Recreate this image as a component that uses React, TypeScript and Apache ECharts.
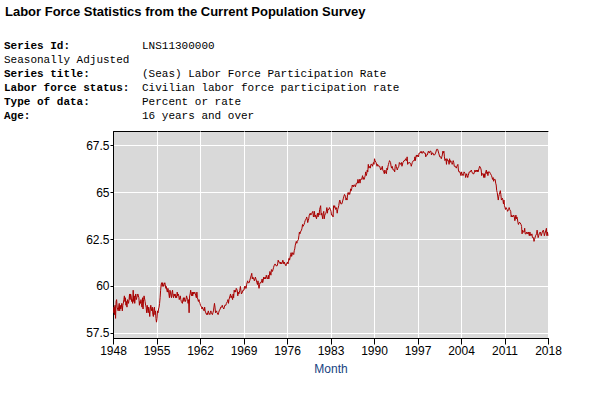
import React, { useEffect, useRef } from "react";
import * as echarts from "echarts";

// Monthly values, January 1948 onward (percent)
const lfpr1948to1957 = [
  58.6, 58.9, 58.5, 59.0, 58.3, 59.2, 59.3, 58.9, 58.9, 58.7, 58.7, 59.1,
  58.7, 59.0, 58.8, 58.9, 59.1, 58.7, 59.0, 59.1, 59.3, 59.5, 59.2, 59.4,
  59.0, 59.2, 58.9, 59.3, 59.2, 59.1, 59.3, 59.6, 59.3, 59.6, 59.5, 59.2,
  59.3, 59.1, 59.8, 59.2, 59.5, 59.1, 59.4, 59.6, 59.3, 59.4, 59.5, 59.6,
  59.6, 59.4, 59.0, 59.2, 59.1, 59.3, 59.1, 58.9, 59.4, 58.8, 59.3, 59.5,
  59.5, 59.2, 59.0, 58.9, 58.6, 59.0, 58.8, 58.6, 58.9, 58.7, 58.4, 58.8,
  59.0, 58.8, 58.7, 58.9, 58.5, 58.4, 58.8, 58.9, 58.5, 58.7, 58.3, 58.1,
  58.3, 58.7, 58.6, 58.8, 58.9, 59.1, 59.4, 59.8, 60.1, 60.2, 60.0, 60.2,
  60.2, 60.0, 60.1, 60.2, 60.1, 59.9, 60.0, 59.8, 59.7, 59.9, 59.8, 59.6,
  59.4, 59.8, 59.7, 59.5, 59.4, 59.7, 59.8, 59.5, 59.4, 59.6, 59.5, 59.6,
];
const lfpr1958to1967 = [
  59.4, 59.5, 59.4, 59.7, 59.5, 59.6, 59.5, 59.3, 59.4, 59.5, 59.3, 59.2,
  59.2, 59.1, 59.3, 59.4, 59.2, 59.4, 59.3, 59.2, 59.3, 59.5, 59.4, 59.3,
  59.1, 59.3, 58.6, 59.5, 59.6, 59.8, 59.6, 59.5, 59.7, 59.5, 59.7, 59.6,
  59.6, 59.7, 59.6, 59.5, 59.4, 59.7, 59.4, 59.3, 59.2, 59.3, 59.2, 59.1,
  59.0, 59.0, 58.9, 58.8, 58.9, 58.8, 58.8, 58.7, 58.9, 58.7, 58.6, 58.6,
  58.5, 58.6, 58.5, 58.7, 58.6, 58.6, 58.5, 58.6, 58.7, 58.6, 58.6, 58.5,
  58.6, 58.7, 58.7, 59.1, 58.9, 58.6, 58.6, 58.7, 58.6, 58.6, 58.5, 58.6,
  58.7, 58.7, 58.8, 58.9, 58.9, 58.9, 59.0, 58.9, 58.9, 58.8, 58.9, 59.0,
  59.0, 59.0, 59.1, 59.1, 59.2, 59.3, 59.1, 59.3, 59.3, 59.5, 59.6, 59.4,
  59.5, 59.4, 59.3, 59.6, 59.4, 59.8, 59.7, 59.8, 59.7, 59.9, 59.9, 59.8,
];
const lfpr1968to1977 = [
  59.5, 59.7, 59.6, 59.6, 59.8, 60.0, 59.8, 59.6, 59.6, 59.7, 59.8, 59.8,
  59.8, 60.0, 59.9, 60.0, 59.9, 60.1, 60.1, 60.3, 60.2, 60.2, 60.2, 60.3,
  60.4, 60.5, 60.6, 60.7, 60.4, 60.5, 60.5, 60.4, 60.3, 60.4, 60.5, 60.4,
  60.4, 60.2, 60.1, 60.3, 60.1, 59.9, 60.1, 60.2, 60.2, 60.2, 60.3, 60.4,
  60.2, 60.3, 60.5, 60.4, 60.4, 60.5, 60.4, 60.6, 60.5, 60.5, 60.4, 60.6,
  60.4, 60.6, 60.8, 60.8, 60.6, 60.9, 60.9, 60.8, 60.8, 61.0, 61.1, 61.1,
  61.2, 61.2, 61.1, 61.1, 61.1, 61.2, 61.4, 61.3, 61.3, 61.3, 61.2, 61.3,
  61.3, 61.2, 61.3, 61.4, 61.3, 61.2, 61.3, 61.2, 61.2, 61.1, 61.2, 61.2,
  61.3, 61.2, 61.4, 61.5, 61.4, 61.4, 61.7, 61.8, 61.6, 61.6, 61.8, 61.8,
  61.7, 61.9, 62.0, 62.2, 62.2, 62.4, 62.3, 62.4, 62.4, 62.5, 62.7, 62.9,
];
const lfpr1978to1987 = [
  62.8, 62.9, 62.9, 63.0, 63.1, 63.3, 63.2, 63.2, 63.3, 63.4, 63.5, 63.5,
  63.6, 63.7, 63.6, 63.4, 63.5, 63.6, 63.8, 63.8, 63.9, 63.8, 63.8, 63.9,
  63.9, 64.0, 63.7, 63.8, 64.0, 63.7, 63.8, 63.7, 63.6, 63.8, 63.9, 63.7,
  63.9, 63.8, 64.1, 64.2, 64.3, 63.8, 63.9, 63.9, 63.6, 63.9, 64.0, 63.6,
  63.8, 63.8, 63.9, 64.0, 64.2, 63.9, 64.1, 64.1, 64.1, 64.2, 64.2, 64.1,
  64.0, 63.8, 63.8, 63.8, 63.7, 64.3, 64.2, 64.3, 64.3, 64.1, 64.2, 64.1,
  63.9, 64.1, 64.1, 64.3, 64.5, 64.6, 64.6, 64.4, 64.4, 64.4, 64.5, 64.6,
  64.7, 64.7, 64.9, 64.9, 64.8, 64.6, 64.7, 64.6, 64.9, 65.0, 64.9, 65.0,
  64.9, 65.0, 65.2, 65.1, 65.2, 65.4, 65.4, 65.3, 65.4, 65.4, 65.4, 65.3,
  65.4, 65.5, 65.5, 65.5, 65.7, 65.5, 65.6, 65.7, 65.5, 65.7, 65.7, 65.7,
];
const lfpr1988to1997 = [
  65.8, 65.9, 65.7, 65.8, 65.7, 65.8, 65.9, 66.1, 65.9, 66.0, 66.2, 66.1,
  66.5, 66.3, 66.3, 66.4, 66.3, 66.5, 66.5, 66.5, 66.4, 66.5, 66.6, 66.5,
  66.8, 66.7, 66.7, 66.6, 66.6, 66.4, 66.5, 66.5, 66.4, 66.4, 66.4, 66.4,
  66.2, 66.2, 66.3, 66.4, 66.2, 66.2, 66.1, 66.0, 66.2, 66.1, 66.1, 66.0,
  66.3, 66.2, 66.4, 66.5, 66.6, 66.7, 66.7, 66.6, 66.4, 66.3, 66.4, 66.4,
  66.2, 66.2, 66.2, 66.1, 66.4, 66.5, 66.4, 66.4, 66.2, 66.3, 66.3, 66.4,
  66.6, 66.6, 66.5, 66.5, 66.6, 66.4, 66.4, 66.6, 66.6, 66.7, 66.7, 66.7,
  66.8, 66.8, 66.7, 66.9, 66.5, 66.5, 66.6, 66.6, 66.6, 66.6, 66.5, 66.4,
  66.4, 66.6, 66.6, 66.7, 66.7, 66.7, 66.9, 66.7, 66.9, 67.0, 66.9, 67.0,
  67.0, 66.9, 67.1, 67.1, 67.1, 67.1, 67.2, 67.1, 67.1, 67.1, 67.2, 67.2,
];
const lfpr1998to2007 = [
  67.1, 67.1, 67.1, 66.9, 67.0, 67.0, 67.0, 67.0, 67.2, 67.2, 67.1, 67.2,
  67.2, 67.2, 67.0, 67.1, 67.1, 67.1, 67.0, 67.0, 67.0, 67.0, 67.1, 67.1,
  67.3, 67.3, 67.3, 67.3, 67.1, 67.1, 66.9, 66.9, 66.9, 66.8, 66.9, 67.0,
  67.2, 67.1, 67.2, 66.9, 66.7, 66.7, 66.8, 66.5, 66.8, 66.7, 66.7, 66.7,
  66.5, 66.8, 66.6, 66.7, 66.7, 66.6, 66.5, 66.6, 66.7, 66.6, 66.4, 66.4,
  66.4, 66.4, 66.3, 66.4, 66.4, 66.5, 66.2, 66.1, 66.1, 66.1, 66.1, 65.9,
  66.1, 66.0, 66.0, 65.9, 66.0, 66.1, 66.1, 66.0, 65.8, 65.9, 66.0, 65.9,
  65.8, 65.9, 65.9, 66.1, 66.1, 66.1, 66.1, 66.2, 66.1, 66.1, 66.0, 66.0,
  66.0, 66.1, 66.2, 66.1, 66.1, 66.2, 66.1, 66.2, 66.1, 66.2, 66.3, 66.4,
  66.4, 66.3, 66.2, 65.9, 66.0, 66.0, 66.0, 65.8, 66.0, 65.8, 66.0, 66.0,
];
const lfpr2008to2018 = [
  66.2, 66.0, 66.1, 65.9, 66.1, 66.1, 66.1, 66.1, 66.0, 66.0, 65.9, 65.8,
  65.7, 65.8, 65.6, 65.7, 65.7, 65.7, 65.5, 65.4, 65.1, 65.0, 65.0, 64.6,
  64.8, 64.9, 64.9, 65.1, 64.9, 64.6, 64.6, 64.7, 64.6, 64.4, 64.6, 64.3,
  64.2, 64.1, 64.2, 64.2, 64.1, 64.0, 64.0, 64.1, 64.2, 64.1, 64.1, 64.0,
  63.7, 63.8, 63.8, 63.7, 63.7, 63.8, 63.7, 63.5, 63.6, 63.8, 63.6, 63.7,
  63.6, 63.4, 63.3, 63.4, 63.4, 63.4, 63.4, 63.3, 63.2, 62.8, 63.0, 62.9,
  62.9, 62.9, 63.1, 62.8, 62.8, 62.8, 62.9, 62.9, 62.8, 62.9, 62.9, 62.7,
  62.9, 62.8, 62.7, 62.7, 62.8, 62.6, 62.6, 62.6, 62.4, 62.5, 62.5, 62.7,
  62.7, 62.8, 63.0, 62.8, 62.6, 62.7, 62.8, 62.8, 62.9, 62.8, 62.7, 62.7,
  62.9, 62.9, 63.0, 62.9, 62.7, 62.8, 62.9, 62.9, 63.1, 62.7, 62.9, 62.7,
  62.7,
];

const startYear = 1948;
const endYear = 2018;
const yearStep = 7;
const yTickValues = [57.5, 60, 62.5, 65, 67.5];

const titleText = "Labor Force Statistics from the Current Population Survey";
const infoLabels = [
  "Series Id:",
  "Seasonally Adjusted",
  "Series title:",
  "Labor force status:",
  "Type of data:",
  "Age:",
];
const infoValues = [
  "LNS11300000",
  "",
  "(Seas) Labor Force Participation Rate",
  "Civilian labor force participation rate",
  "Percent or rate",
  "16 years and over",
];
const infoBold = [true, false, true, true, true, true];

export default function App() {
  const ref = useRef<HTMLDivElement>(null);

  useEffect(() => {
    if (!ref.current) return;
    const chart = echarts.init(ref.current, null, { renderer: "svg" });

    const monthly = [
      ...lfpr1948to1957,
      ...lfpr1958to1967,
      ...lfpr1968to1977,
      ...lfpr1978to1987,
      ...lfpr1988to1997,
      ...lfpr1998to2007,
      ...lfpr2008to2018,
    ];
    const data = monthly.map((v, i) => [i / 12, v]);

    const mono = "'Liberation Mono', 'DejaVu Sans Mono', monospace";
    const graphics: any[] = [
      {
        type: "text",
        x: 5,
        y: 11.5,
        style: {
          text: titleText,
          font: "bold 13px 'Liberation Sans', Arial, sans-serif",
          fill: "#000",
          verticalAlign: "middle",
        },
      },
    ];
    infoLabels.forEach((lab, i) => {
      graphics.push({
        type: "text",
        x: 4,
        y: 45.5 + i * 14,
        style: {
          text: lab,
          font: `${infoBold[i] ? "bold " : ""}11px ${mono}`,
          fill: "#000",
          verticalAlign: "middle",
        },
      });
      if (infoValues[i]) {
        graphics.push({
          type: "text",
          x: 142,
          y: 45.5 + i * 14,
          style: {
            text: infoValues[i],
            font: `11px ${mono}`,
            fill: "#000",
            verticalAlign: "middle",
          },
        });
      }
    });

    const axisFont = "'Liberation Sans', Arial, sans-serif";

    chart.setOption({
      animation: false,
      backgroundColor: "#fff",
      graphic: graphics,
      grid: {
        left: 113.5,
        right: 52.5,
        top: 131.5,
        bottom: 60.5,
        show: true,
        backgroundColor: "#d9d9d9",
        borderColor: "#000",
        borderWidth: 1,
        outerBoundsMode: "none",
      },
      xAxis: {
        type: "value",
        min: 0,
        max: endYear - startYear,
        interval: yearStep,
        name: "Month",
        nameLocation: "middle",
        nameGap: 24,
        nameTextStyle: { color: "#17427f", fontSize: 12, fontFamily: axisFont },
        axisLine: { show: true, lineStyle: { color: "#000", width: 1 } },
        axisTick: { show: true, length: 6, lineStyle: { color: "#000" } },
        axisLabel: {
          color: "#000",
          fontSize: 12,
          fontFamily: axisFont,
          margin: 6,
          formatter: (v: number) => String(startYear + v),
          showMinLabel: true,
          showMaxLabel: true,
        },
        splitLine: { show: true, lineStyle: { color: "#fff", width: 1 } },
      },
      yAxis: {
        type: "value",
        min: 57.23,
        max: 68.25,
        axisLine: { show: true, lineStyle: { color: "#000", width: 1 } },
        axisTick: {
          show: true,
          length: 3,
          lineStyle: { color: "#000" },
          customValues: yTickValues,
        },
        axisLabel: {
          color: "#000",
          fontSize: 12,
          fontFamily: axisFont,
          margin: 4,
          customValues: yTickValues,
        },
        splitLine: { show: true, lineStyle: { color: "#fff", width: 1 } },
      },
      series: [
        {
          type: "line",
          data,
          showSymbol: false,
          symbol: "none",
          lineStyle: { color: "#a80000", width: 1 },
          itemStyle: { color: "#a80000" },
        },
      ],
    });

    return () => chart.dispose();
  }, []);

  return (
    <div
      ref={ref}
      style={{ position: "fixed", left: 0, top: 0, width: 601, height: 399 }}
    />
  );
}
